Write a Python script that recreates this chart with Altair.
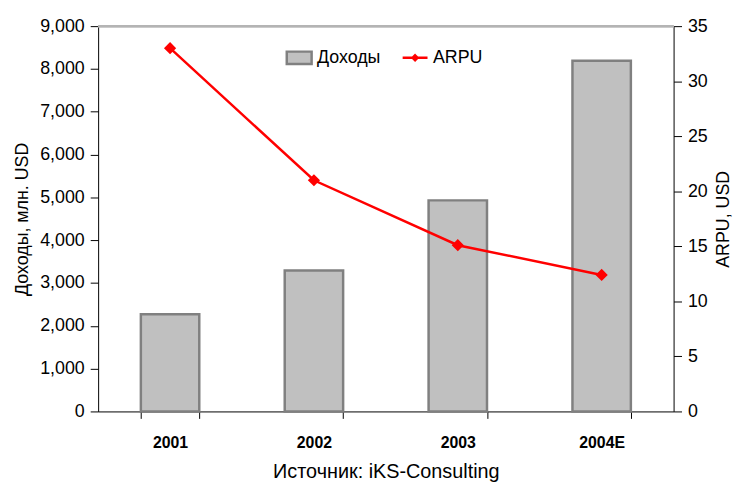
import altair as alt
import pandas as pd

years = ["2001", "2002", "2003", "2004E"]
revenue = [2270, 3290, 4930, 8190]
arpu = [33.0, 21.0, 15.1, 12.4]

df = pd.DataFrame({
    "year": years,
    "revenue": revenue,
    "arpu": arpu,
    "s_bar": ["Доходы"] * 4,
    "s_line": ["ARPU"] * 4,
})

FONT = "Liberation Sans Narrow, Liberation Sans, Arial"
FS = 18
W, H = 581, 389

x = alt.X(
    "year:N",
    sort=years,
    scale=alt.Scale(paddingInner=0.594, paddingOuter=0.297),
    axis=alt.Axis(
        title="Источник: iKS-Consulting",
        titleFontWeight="normal",
        titleFontSize=20,
        titlePadding=12,
        labelFontWeight="bold",
        labelFontSize=16,
        labelAngle=0,
        labelPadding=16,
        tickBand="extent",
        tickSize=7,
    ),
)

bars = alt.Chart(df).mark_bar(stroke="#808080", strokeWidth=2.5).encode(
    x=x,
    y=alt.Y(
        "revenue:Q",
        scale=alt.Scale(domain=[0, 9000]),
        axis=alt.Axis(
            title="Доходы, млн. USD",
            format=",d",
            values=list(range(0, 9001, 1000)),
            titleFontWeight="normal",
            titleFontSize=FS,
            labelFontSize=FS,
            tickSize=8,
            labelPadding=6,
            grid=False,
            titlePadding=8,
        ),
    ),
    color=alt.Color(
        "s_bar:N",
        scale=alt.Scale(domain=["Доходы"], range=["#c0c0c0"]),
        legend=alt.Legend(
            title=None,
            orient="none",
            legendX=193,
            legendY=22,
            symbolType="M-1.5,-0.75H1.5V0.75H-1.5Z",
            symbolSize=280,
            symbolStrokeColor="#808080",
            symbolStrokeWidth=2.5,
            symbolFillColor="#c0c0c0",
            labelFontSize=FS,
            labelFont=FONT,
            labelOffset=8,
        ),
    ),
)

line = alt.Chart(df).mark_line(
    color="#ff0000", strokeWidth=2.5,
    point=alt.OverlayMarkDef(shape="diamond", size=90, filled=True, color="#ff0000"),
).encode(
    x=x,
    y=alt.Y(
        "arpu:Q",
        scale=alt.Scale(domain=[0, 35]),
        axis=alt.Axis(
            title="ARPU, USD",
            orient="right",
            values=list(range(0, 36, 5)),
            titleFontWeight="normal",
            titleFontSize=FS,
            titleAngle=270,
            titleBaseline="top",
            labelFontSize=FS,
            tickSize=8,
            labelPadding=6,
            grid=False,
            titlePadding=7,
        ),
    ),
    stroke=alt.Stroke(
        "s_line:N",
        scale=alt.Scale(domain=["ARPU"], range=["#ff0000"]),
        legend=alt.Legend(
            title=None,
            orient="none",
            legendX=310,
            legendY=22,
            symbolType="M-1.5,0H1.5M0,-0.3L0.3,0L0,0.3L-0.3,0Z",
            symbolSize=280,
            symbolStrokeColor="#ff0000",
            symbolFillColor="#ff0000",
            symbolStrokeWidth=2.5,
            labelFontSize=FS,
            labelFont=FONT,
            labelOffset=8,
        ),
    ),
)

top_border = alt.Chart(df).mark_rule(color="#b4b4b4", strokeWidth=2).encode(
    x=alt.value(0), x2=alt.value(W), y=alt.value(0)
)

chart = alt.layer(top_border, bars, line).resolve_scale(
    y="independent", color="independent", stroke="independent"
).properties(
    width=W,
    height=H,
    autosize=alt.AutoSizeParams(type="none"),
    padding={"left": 91, "top": 16, "right": 62, "bottom": 76},
).configure_view(stroke=None).configure_axis(
    labelFont=FONT,
    titleFont=FONT,
    labelColor="black",
    titleColor="black",
    domainColor="black",
    tickColor="black",
    domainWidth=1,
).configure_legend(labelColor="black")

chart.save("out.html", embed_options={"renderer": "svg", "actions": False})
